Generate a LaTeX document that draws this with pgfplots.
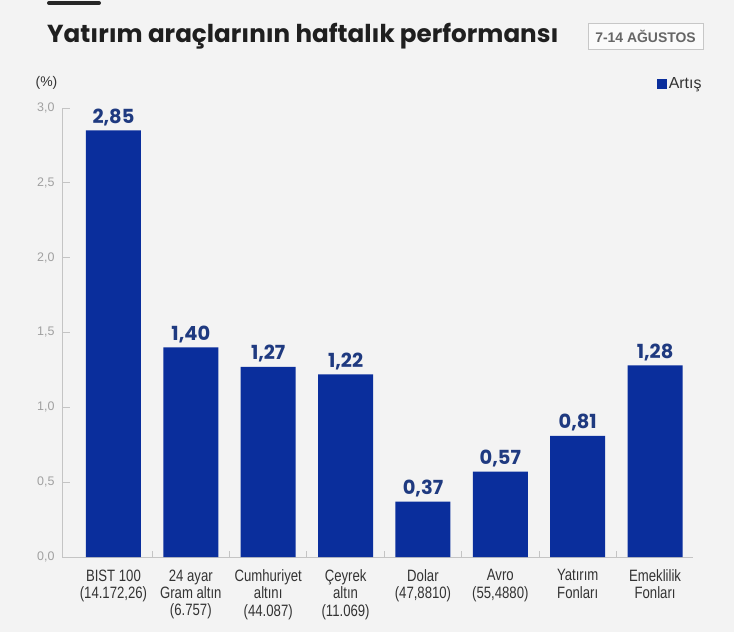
\documentclass[border=0pt]{standalone}
\usepackage{pgfplots}
\pgfplotsset{compat=1.18}
\usepackage{fontspec}
\setmainfont{Liberation Sans}[FakeStretch=0.86]
\newfontfamily\lib{Liberation Sans}
\newfontfamily\cond{Liberation Sans}[FakeStretch=0.8]
\newfontfamily\poppins{Poppins}
\definecolor{bg}{HTML}{F3F3F3}
\definecolor{barblue}{HTML}{0A2E9C}
\definecolor{navy}{HTML}{1F3A80}
\definecolor{ticklbl}{HTML}{A0A0A0}
\definecolor{axisgray}{HTML}{C4C4C4}
\definecolor{txt}{HTML}{333333}
\begin{document}
\begin{tikzpicture}
\fill[bg] (0bp,0bp) rectangle (734bp,-632bp);
\path[use as bounding box] (0bp,0bp) rectangle (734bp,-632bp);
% top rule
\draw[line width=4bp, color=black!85, line cap=round] (49bp,-3bp) -- (99bp,-3bp);
% title
\node[anchor=base west, inner sep=0, font=\poppins\bfseries\fontsize{24.7}{28}\selectfont, text=black!88] at (47bp,-42bp) {Yatırım araçlarının haftalık performansı};
% date box
\draw[draw=black!22, fill=white!60!bg, line width=0.8bp] (588bp,-23bp) rectangle (703bp,-49bp);
\node[font=\lib\bfseries\fontsize{14}{16}\selectfont, text=black!60] at (645.5bp,-36bp) {7-14 AĞUSTOS};
% (%)
\node[font=\lib\fontsize{14}{16}\selectfont, text=txt] at (46.5bp,-83bp) {(\%)};
\begin{axis}[
  at={(62bp,-557bp)}, anchor=south west,
  scale only axis, width=631bp, height=449bp,
  xmin=-0.665, xmax=7.49, ymin=0, ymax=3,
  axis x line=bottom, axis y line=left,
  axis line style={-, draw=axisgray, line width=0.8bp},
  ybar, bar width=55bp,
  ytick={0,0.5,1,1.5,2,2.5,3},
  /pgf/number format/assume math mode=true,
  yticklabel style={/pgf/number format/fixed, /pgf/number format/fixed zerofill, /pgf/number format/precision=1, /pgf/number format/use comma},
  yticklabel style={font=\lib\fontsize{12.5}{14}\selectfont, text=ticklbl, xshift=-4bp},
  y tick style={draw=axisgray, line width=0.8bp},
  tick align=inside, major tick length=8bp,
  xtick={0,...,7},
  x tick style={draw=none},
  extra x ticks={0.5,1.5,2.5,3.5,4.5,5.5,6.5},
  extra x tick labels={},
  extra x tick style={tick align=inside, major tick length=6bp, x tick style={draw=axisgray, line width=0.8bp}},
  xticklabels={{BIST 100\\(14.172,26)},{24 ayar\\Gram altın\\(6.757)},{Cumhuriyet\\altını\\(44.087)},{Çeyrek\\altın\\(11.069)},{Dolar\\(47,8810)},{Avro\\(55,4880)},{Yatırım\\Fonları},{Emeklilik\\Fonları}},
  xticklabel style={align=center, font=\cond\fontsize{16.5}{17.5}\selectfont, text=txt, yshift=-9bp},
  nodes near coords={\pgfmathprintnumber[fixed,fixed zerofill,precision=2,use comma,assume math mode=true]{\pgfplotspointmeta}},
  nodes near coords style={font=\poppins\bfseries\fontsize{19.5}{21}\selectfont, text=navy, yshift=1bp},
  legend style={at={(1.017,1.053)}, anchor=east, draw=none, fill=none, font=\lib\fontsize{16}{18}\selectfont, text=txt, inner sep=0pt},
  legend image code/.code={\fill[barblue] (0bp,-4.5bp) rectangle (9.5bp,5bp);},
  clip=false,
]
\addplot[fill=barblue, draw=none] coordinates {(0,2.85) (1,1.40) (2,1.27) (3,1.22) (4,0.37) (5,0.57) (6,0.81) (7,1.28)};
\addlegendentry{Artış}
\end{axis}
\end{tikzpicture}
\end{document}
